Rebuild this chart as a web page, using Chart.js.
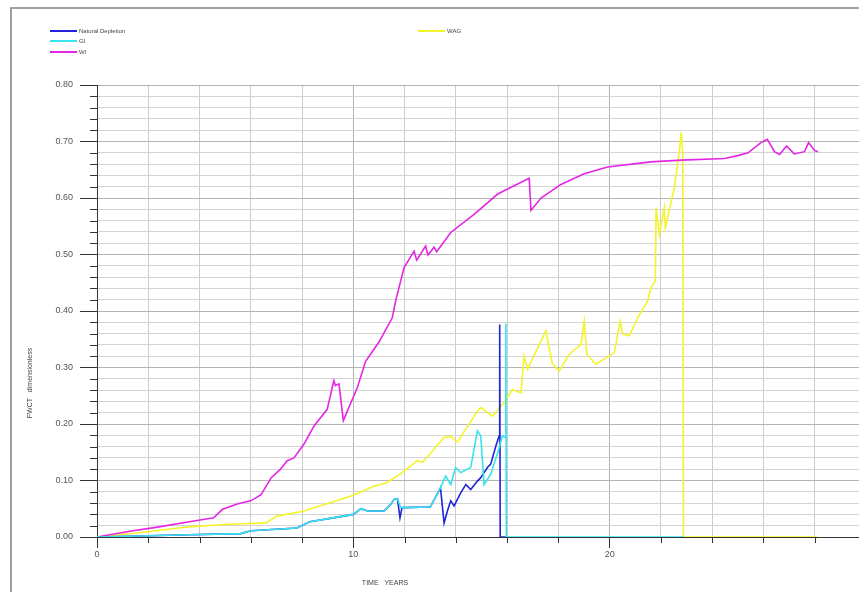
<!DOCTYPE html>
<html>
<head>
<meta charset="utf-8">
<script src="https://cdn.jsdelivr.net/npm/chart.js@4.4.1/dist/chart.umd.min.js"></script>
<style>
  html, body { margin: 0; padding: 0; background: #fff; overflow: hidden; }
  #wrap { position: relative; width: 880px; height: 592px; }
  #frame { position: absolute; left: 10px; top: 7px; width: 900px; height: 620px;
           border: 2px solid #a0a0a0; box-sizing: border-box; }
  canvas { position: absolute; left: 0; top: 0; }
</style>
</head>
<body>
<div id="wrap">
  <div id="frame"></div>
  <canvas id="chart" width="880" height="592"></canvas>
</div>
<script>
// ---- data (time in years, FWCT) ----
const seriesNames = ["Natural Depletion", "GI", "WI", "WAG"];

const ndTime = [0, 3.6, 5.6, 6.0, 7.8, 8.3, 9.1, 10.0, 10.3, 10.55, 11.2, 11.46, 11.6, 11.72, 11.82, 11.9,
  13.0, 13.4, 13.54, 13.67, 13.8, 13.93, 14.19, 14.39, 14.58, 14.84, 14.97, 15.1, 15.23, 15.36, 15.56,
  15.69, 15.71, 15.73, 15.95];
const ndFwct = [0, 0.004, 0.006, 0.011, 0.016, 0.027, 0.033, 0.040, 0.050, 0.046, 0.046, 0.058, 0.067, 0.068, 0.034, 0.052,
  0.053, 0.087, 0.025, 0.046, 0.064, 0.055, 0.078, 0.093, 0.084, 0.099, 0.105, 0.114, 0.123, 0.129, 0.161,
  0.179, 0.376, 0, 0];

const giTime = [0, 3.6, 5.6, 6.0, 7.8, 8.3, 9.1, 10.0, 10.3, 10.55, 11.2, 11.46, 11.6, 11.72, 11.85,
  13.0, 13.4, 13.6, 13.8, 13.99, 14.19, 14.58, 14.84, 14.97, 15.1, 15.36, 15.63, 15.82, 15.93, 15.95, 15.97, 22.9];
const giFwct = [0, 0.004, 0.006, 0.011, 0.016, 0.027, 0.033, 0.040, 0.050, 0.046, 0.046, 0.058, 0.067, 0.068, 0.052,
  0.053, 0.087, 0.108, 0.093, 0.123, 0.114, 0.123, 0.188, 0.179, 0.093, 0.111, 0.149, 0.179, 0.176, 0.378, 0, 0];

const wiTime = [0, 0.5, 1.4, 2.3, 3.6, 4.55, 4.9, 5.5, 6.0, 6.4, 6.8, 7.16, 7.42, 7.68, 8.07, 8.46, 8.98,
  9.24, 9.3, 9.44, 9.61, 10.16, 10.48, 11.0, 11.52, 11.65, 11.98, 12.37, 12.47, 12.82, 12.91, 13.15, 13.25,
  13.8, 14.71, 15.63, 16.86, 16.93, 17.32, 18.1, 19.0, 19.92, 21.6, 22.8, 24.48, 25.0, 25.4, 25.9, 26.15,
  26.43, 26.63, 26.9, 27.2, 27.6, 27.76, 27.99, 28.13];
const wiFwct = [0, 0.004, 0.011, 0.017, 0.027, 0.034, 0.049, 0.059, 0.064, 0.075, 0.105, 0.12, 0.135, 0.14, 0.164, 0.196, 0.226,
  0.277, 0.268, 0.271, 0.206, 0.265, 0.311, 0.345, 0.388, 0.418, 0.477, 0.506, 0.49, 0.515, 0.499, 0.513, 0.505,
  0.539, 0.571, 0.607, 0.635, 0.578, 0.60, 0.624, 0.643, 0.655, 0.664, 0.667, 0.670, 0.675, 0.680, 0.698, 0.704,
  0.682, 0.677, 0.692, 0.678, 0.682, 0.698, 0.684, 0.682];

const wagTime = [0, 1.7, 3.6, 5.0, 6.6, 7.0, 8.0, 8.85, 10.0, 10.8, 11.3, 11.85, 12.5, 12.7, 13.54, 13.8, 14.06,
  14.84, 14.97, 15.43, 15.88, 16.21, 16.54, 16.66, 16.8, 17.51, 17.77, 18.03, 18.42, 18.88, 19.01, 19.11,
  19.46, 20.18, 20.41, 20.51, 20.77, 21.09, 21.48, 21.61, 21.78, 21.81, 21.94, 22.13, 22.17, 22.52, 22.72,
  22.79, 22.85, 22.88, 28.1];
const wagFwct = [0, 0.008, 0.018, 0.022, 0.025, 0.037, 0.045, 0.057, 0.074, 0.09, 0.096, 0.112, 0.135, 0.132, 0.176, 0.178, 0.168,
  0.223, 0.229, 0.214, 0.238, 0.261, 0.255, 0.32, 0.297, 0.365, 0.306, 0.294, 0.323, 0.341, 0.382, 0.323,
  0.306, 0.326, 0.382, 0.359, 0.356, 0.388, 0.418, 0.441, 0.453, 0.583, 0.536, 0.583, 0.547, 0.618, 0.683,
  0.716, 0.677, 0, 0];

const xTickLabels = [0, 10, 20, 30];
const yTickLabels = [0, 0.1, 0.2, 0.3, 0.4, 0.5, 0.6, 0.7, 0.8];

// ---- helpers ----
const toPoints = (t, v) => t.map((x, i) => ({ x, y: v[i] }));
const isMajorY = (v) => yTickLabels.some(m => Math.abs(m - v) < 1e-6);
const isMajorX = (v) => xTickLabels.includes(v);

const colors = ["#2323d8", "#38e4ec", "#e426e4", "#f4f428"];
const legendPos = [[50, 31], [50, 41], [50, 52], [418, 31]];

Chart.defaults.font.family = '"Liberation Sans", Arial, sans-serif';
Chart.defaults.font.size = 9;
Chart.defaults.color = "#555";

// minor ticks, axis titles and legend drawn on top of the chart
const decorations = {
  id: "decorations",
  afterDraw(chart) {
    const ctx = chart.ctx;
    const xs = chart.scales.x, ys = chart.scales.y;
    ctx.save();
    ctx.strokeStyle = "#333";
    ctx.lineWidth = 1;
    ys.ticks.forEach(t => {
      if (isMajorY(t.value)) return;
      const py = Math.round(ys.getPixelForValue(t.value)) + 0.5;
      ctx.beginPath(); ctx.moveTo(xs.left - 7, py); ctx.lineTo(xs.left, py); ctx.stroke();
    });
    xs.ticks.forEach(t => {
      if (isMajorX(t.value)) return;
      const px = Math.round(xs.getPixelForValue(t.value)) + 0.5;
      ctx.beginPath(); ctx.moveTo(px, ys.bottom); ctx.lineTo(px, ys.bottom + 6); ctx.stroke();
    });

    // axis titles
    ctx.fillStyle = "#444";
    ctx.font = '7px "Liberation Sans", Arial, sans-serif';
    ctx.textAlign = "center";
    ctx.textBaseline = "middle";
    ctx.fillText("TIME   YEARS", 385, 583);
    ctx.translate(30, 383);
    ctx.rotate(-Math.PI / 2);
    ctx.fillText("FWCT   dimensionless", 0, 0);
    ctx.setTransform(1, 0, 0, 1, 0, 0);

    // legend
    ctx.font = '6px "Liberation Sans", Arial, sans-serif';
    ctx.textAlign = "left";
    chart.data.datasets.forEach((ds, i) => {
      const [lx, ly] = legendPos[i];
      ctx.strokeStyle = ds.borderColor;
      ctx.lineWidth = 2;
      ctx.beginPath(); ctx.moveTo(lx, ly); ctx.lineTo(lx + 27, ly); ctx.stroke();
      ctx.fillStyle = "#444";
      ctx.fillText(ds.label, lx + 29, ly);
    });
    ctx.restore();
  }
};

const ctx = document.getElementById("chart").getContext("2d");
new Chart(ctx, {
  type: "line",
  data: {
    datasets: [
      { label: seriesNames[0], data: toPoints(ndTime, ndFwct), borderColor: colors[0], order: 1 },
      { label: seriesNames[1], data: toPoints(giTime, giFwct), borderColor: colors[1], order: 0 },
      { label: seriesNames[2], data: toPoints(wiTime, wiFwct), borderColor: colors[2], order: 2 },
      { label: seriesNames[3], data: toPoints(wagTime, wagFwct), borderColor: colors[3], order: 3 }
    ]
  },
  options: {
    responsive: false,
    animation: false,
    layout: { padding: { top: 85, right: 14, left: 0, bottom: 0 } },
    elements: {
      point: { radius: 0 },
      line: { borderWidth: 1.6, tension: 0 }
    },
    plugins: { legend: { display: false }, tooltip: { enabled: false } },
    scales: {
      x: {
        type: "linear",
        min: 0, max: 30,
        afterFit: (s) => { s.height = 55; },
        border: { display: true, color: "#333", width: 1 },
        grid: {
          color: (c) => isMajorX(c.tick.value) ? "#b4b4b4" : "#cccccc",
          tickLength: 11,
          tickColor: (c) => isMajorX(c.tick.value) ? "#333" : "rgba(0,0,0,0)"
        },
        ticks: {
          stepSize: 2,
          autoSkip: false,
          maxRotation: 0,
          padding: 1,
          callback: (v) => isMajorX(v) ? String(v) : ""
        }
      },
      y: {
        min: 0, max: 0.8,
        afterFit: (s) => { s.width = 97; },
        border: { display: true, color: "#333", width: 1 },
        grid: {
          color: (c) => isMajorY(c.tick.value) ? "#b4b4b4" : "#d4d4d4",
          tickLength: 17,
          tickColor: (c) => isMajorY(c.tick.value) ? "#333" : "rgba(0,0,0,0)"
        },
        ticks: {
          stepSize: 0.02,
          maxTicksLimit: 50,
          autoSkip: false,
          padding: 7,
          callback: (v) => isMajorY(v) ? v.toFixed(2) : ""
        }
      }
    }
  },
  plugins: [decorations]
});
</script>
</body>
</html>
